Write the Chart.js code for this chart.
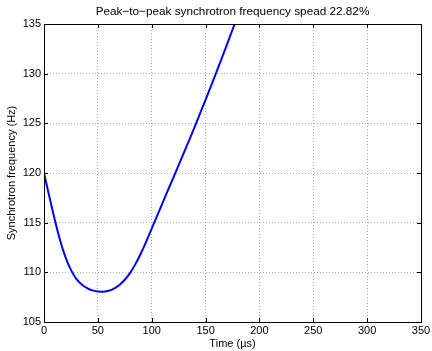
<!DOCTYPE html>
<html>
<head>
<meta charset="utf-8">
<script src="https://cdn.jsdelivr.net/npm/chart.js@4"></script>
<style>
  html, body { margin: 0; padding: 0; background: #fff; }
  #wrap { width: 432px; height: 351px; }
</style>
</head>
<body>
<div id="wrap"><canvas id="myChart" width="432" height="351"></canvas></div>
<script>
// values
const timeUs = [0, 5, 10, 15, 20, 25, 30, 35, 40, 45, 50, 55, 60, 65, 70, 75, 80, 85, 90, 95,
    100, 105, 110, 115, 120, 125, 130, 135, 140, 145, 150, 155, 160, 165, 170, 175, 177];
const freqHz = [120.0, 117.6, 115.3, 113.2, 111.5, 110.25, 109.35, 108.78, 108.42, 108.18, 108.06, 108.05, 108.15, 108.37, 108.73, 109.25,
    109.95, 110.85, 111.92, 113.12, 114.4, 115.68, 116.96, 118.24, 119.52, 120.8, 122.08, 123.36, 124.68, 126.02,
    127.37, 128.74, 130.13, 131.54, 132.97, 134.42, 135.0];
const xTicks = [0, 50, 100, 150, 200, 250, 300, 350];
const yTicks = [105, 110, 115, 120, 125, 130, 135];
const titleText = 'Peak\u2212to\u2212peak synchrotron frequency spead 22.82%';

const FONT = 'Liberation Sans, Arial, Helvetica, sans-serif';

// frame, inward tick marks and the title centred over the axes (matlab style)
const boxPlugin = {
    id: 'box',
    afterDraw(chart) {
        const ctx = chart.ctx;
        const a = chart.chartArea;
        const sx = chart.scales.x, sy = chart.scales.y;
        ctx.save();
        ctx.strokeStyle = '#000';
        ctx.lineWidth = 1;
        ctx.beginPath();
        xTicks.forEach(v => {
            const px = Math.round(sx.getPixelForValue(v)) + 0.5;
            ctx.moveTo(px, a.bottom); ctx.lineTo(px, a.bottom - 4);
            ctx.moveTo(px, a.top); ctx.lineTo(px, a.top + 4);
        });
        yTicks.forEach(v => {
            const py = Math.round(sy.getPixelForValue(v)) + 0.5;
            ctx.moveTo(a.left, py); ctx.lineTo(a.left + 4, py);
            ctx.moveTo(a.right, py); ctx.lineTo(a.right - 4, py);
        });
        ctx.stroke();
        ctx.strokeRect(Math.round(a.left) + 0.5, Math.round(a.top) + 0.5,
            Math.round(a.right - a.left), Math.round(a.bottom - a.top));

        ctx.fillStyle = '#000';
        ctx.font = '11.75px ' + FONT;
        ctx.textAlign = 'center';
        ctx.textBaseline = 'middle';
        ctx.fillText(titleText, (a.left + a.right) / 2, 12);
        ctx.restore();
    }
};

const data = {
    datasets: [{
        data: timeUs.map((t, i) => ({ x: t, y: freqHz[i] })),
        borderColor: '#0000ff',
        borderWidth: 2,
        pointRadius: 0,
        cubicInterpolationMode: 'monotone',
        fill: false
    }]
};

const config = {
    type: 'line',
    data: data,
    options: {
        responsive: false,
        animation: false,
        layout: { padding: { top: 24, left: 0, right: 0, bottom: 0 } },
        plugins: {
            legend: { display: false },
            tooltip: { enabled: false },
            title: { display: false }
        },
        scales: {
            x: {
                type: 'linear',
                min: 0, max: 350,
                afterBuildTicks: s => { s.ticks = xTicks.map(v => ({ value: v })); },
                afterFit: s => { s.height = 29; s.paddingRight = 11; s.paddingLeft = 0; },
                ticks: { color: '#000', padding: 2, maxRotation: 0, font: { family: FONT, size: 11 } },
                grid: { color: '#b0b0b0', drawTicks: false },
                border: { display: false, dash: [1, 2] },
                title: {
                    display: true, text: 'Time (\u00b5s)', color: '#000',
                    font: { family: FONT, size: 11 }, padding: { top: 0, bottom: 0 }
                }
            },
            y: {
                min: 105, max: 135,
                afterBuildTicks: s => { s.ticks = yTicks.map(v => ({ value: v })); },
                afterFit: s => { s.width = 44; s.paddingTop = 0; s.paddingBottom = 0; },
                ticks: { color: '#000', padding: 3, font: { family: FONT, size: 11 } },
                grid: { color: '#b0b0b0', drawTicks: false },
                border: { display: false, dash: [1, 2] },
                title: {
                    display: true, text: 'Synchrotron frequency (Hz)', color: '#000',
                    font: { family: FONT, size: 11 }, padding: { top: 5, bottom: 0 }
                }
            }
        }
    },
    plugins: [boxPlugin]
};

new Chart(document.getElementById('myChart'), config);
</script>
</body>
</html>
